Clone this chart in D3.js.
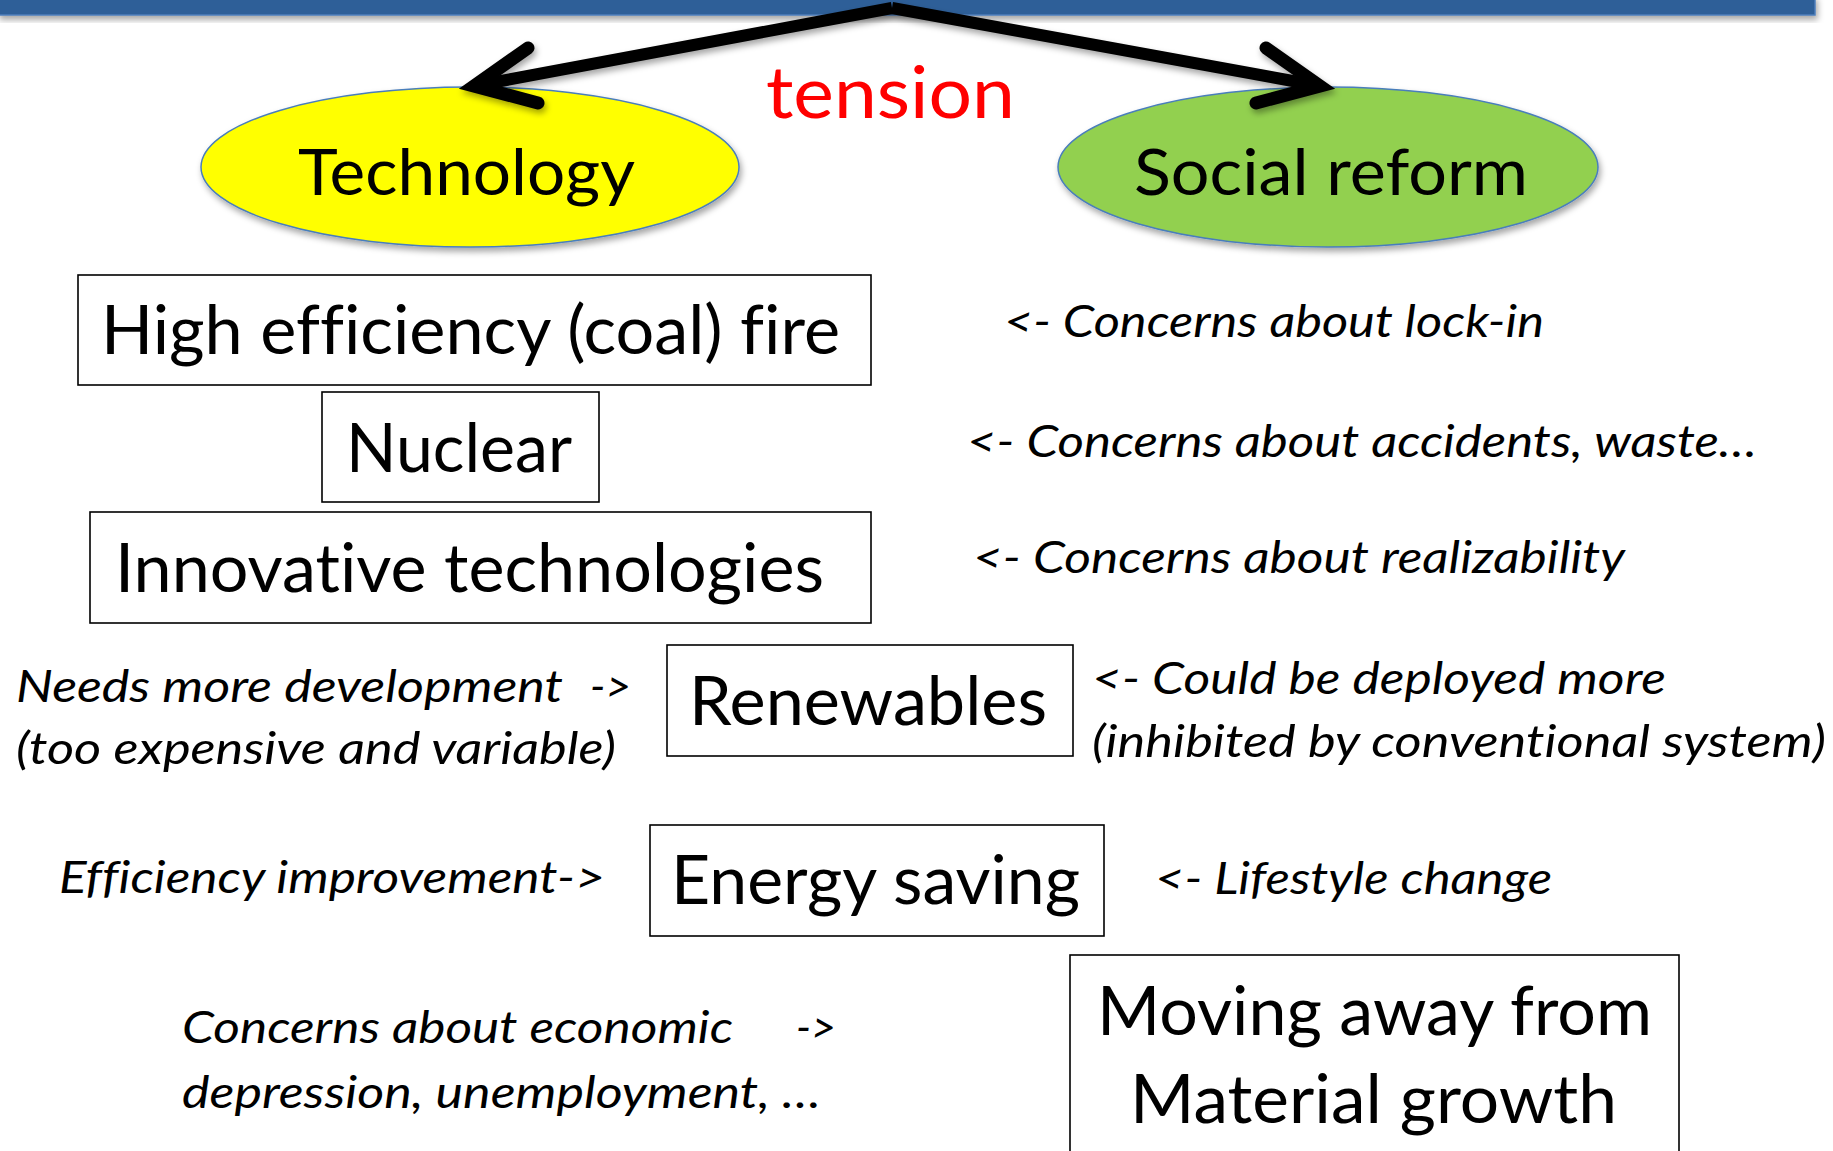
<!DOCTYPE html>
<html lang="en">
<head>
  <meta charset="utf-8" />
  <title>Technology vs Social reform</title>
  <script src="https://d3js.org/d3.v7.min.js"></script>
  <style>
    html, body { margin: 0; padding: 0; background: #fff; }
    svg text { font-family: Lato, "Open Sans", sans-serif; white-space: pre; font-variant-ligatures: none; }
  </style>
</head>
<body>
<script>
  // ---- content ----
  var poles = ["Technology", "Social reform"];
  var tensionLabel = "tension";
  var options = [
    ["High efficiency (coal) fire"],
    ["Nuclear"],
    ["Innovative technologies"],
    ["Renewables"],
    ["Energy saving"],
    ["Moving away from", "Material growth"]
  ];
  var socialNotes = [
    "<- Concerns about lock-in",
    "<- Concerns about accidents, waste…",
    "<- Concerns about realizability",
    "<- Could be deployed more",
    "(inhibited by conventional system)",
    "<- Lifestyle change"
  ];
  var techNotes = [
    "Needs more development",
    "->",
    "(too expensive and variable)",
    "Efficiency improvement->",
    "Concerns about economic",
    "->",
    "depression, unemployment, …"
  ];

  // ---- layout (slide units = reference pixels) ----
  var svg_width = 1833, svg_height = 1151;
  var x = d3.scaleLinear().domain([0, 1833]).range([0, svg_width]);
  var y = d3.scaleLinear().domain([0, 1151]).range([0, svg_height]);

  var poleLayout = [
    { cx: 470, cy: 167, rx: 269, ry: 80, fill: "#FFFF00", tx0: 298, tx1: 635, ty: 195 },
    { cx: 1328, cy: 167, rx: 270, ry: 80, fill: "#92D050", tx0: 1134, tx1: 1528, ty: 195 }
  ];
  var boxLayout = [
    { x0: 78, y0: 275, x1: 871, y1: 385, lines: [[101, 840, 354]] },
    { x0: 322, y0: 392, x1: 599, y1: 502, lines: [[346, 572, 472]] },
    { x0: 90, y0: 512, x1: 871, y1: 623, lines: [[115, 824, 592]] },
    { x0: 667, y0: 645, x1: 1073, y1: 756, lines: [[689, 1047, 725]] },
    { x0: 650, y0: 825, x1: 1104, y1: 936, lines: [[671, 1080, 904]] },
    { x0: 1070, y0: 955, x1: 1679, y1: 1170, lines: [[1097, 1652, 1035], [1130, 1617, 1123]] }
  ];
  var socialPos = [
    [1004, 1544, 337], [967, 1757, 457], [973, 1625, 573],
    [1092, 1666, 694], [1092, 1826, 757], [1155, 1552, 894]
  ];
  var techPos = [
    [16, 563, 702], [590, 631, 702], [16, 616, 764], [59, 605, 893],
    [182, 733, 1043], [796, 836, 1043], [182, 821, 1108]
  ];

  var svg = d3.select("body").append("svg")
    .attr("width", svg_width)
    .attr("height", svg_height);

  var defs = svg.append("defs");
  defs.append("filter").attr("id", "shadow")
    .attr("x", "-10%").attr("y", "-20%").attr("width", "130%").attr("height", "160%")
    .append("feDropShadow")
    .attr("dx", 2).attr("dy", 4).attr("stdDeviation", 3)
    .attr("flood-color", "#000").attr("flood-opacity", 0.35);

  // top bar
  svg.append("rect")
    .attr("x", x(-2)).attr("y", y(-4))
    .attr("width", x(1815) - x(-2)).attr("height", y(19))
    .attr("fill", "#2E5E98")
    .attr("stroke", "#4C7DBA").attr("stroke-width", 1.5)
    .attr("filter", "url(#shadow)");

  // ellipses
  var poleG = svg.append("g").selectAll("g").data(poles).join("g");
  poleG.append("ellipse")
    .attr("cx", function (d, i) { return x(poleLayout[i].cx); })
    .attr("cy", function (d, i) { return y(poleLayout[i].cy); })
    .attr("rx", function (d, i) { return x(poleLayout[i].rx) - x(0); })
    .attr("ry", function (d, i) { return y(poleLayout[i].ry) - y(0); })
    .attr("fill", function (d, i) { return poleLayout[i].fill; })
    .attr("stroke", "#4A7EBB").attr("stroke-width", 1.5)
    .attr("filter", "url(#shadow)");
  poleG.append("text")
    .attr("x", function (d, i) { return x(poleLayout[i].tx0); })
    .attr("y", function (d, i) { return y(poleLayout[i].ty); })
    .attr("font-size", 63)
    .attr("textLength", function (d, i) { return x(poleLayout[i].tx1) - x(poleLayout[i].tx0); })
    .attr("lengthAdjust", "spacingAndGlyphs")
    .text(function (d) { return d; });

  // tension arrows
  var apex = [892, 8];
  var arrows = [
    { tip: [474, 86], h1: [528, 48], h2: [538, 103] },
    { tip: [1320, 86], h1: [1266, 48], h2: [1256, 103] }
  ];
  var line = d3.line().x(function (p) { return x(p[0]); }).y(function (p) { return y(p[1]); });
  var arrowG = svg.append("g").attr("filter", "url(#shadow)");
  arrows.forEach(function (a) {
    arrowG.append("path").attr("d", line([apex, a.tip]))
      .attr("fill", "none").attr("stroke", "#000").attr("stroke-width", 12);
    arrowG.append("path").attr("d", line([a.h1, a.tip, a.h2]))
      .attr("fill", "none").attr("stroke", "#000").attr("stroke-width", 13)
      .attr("stroke-linecap", "round").attr("stroke-linejoin", "miter");
  });
  svg.append("text")
    .attr("x", x(766)).attr("y", y(118))
    .attr("font-size", 72).attr("fill", "#FF0000")
    .attr("textLength", x(1015) - x(766))
    .attr("lengthAdjust", "spacingAndGlyphs")
    .text(tensionLabel);

  // option boxes
  var boxG = svg.append("g").selectAll("g").data(options).join("g");
  boxG.append("rect")
    .attr("x", function (d, i) { return x(boxLayout[i].x0); })
    .attr("y", function (d, i) { return y(boxLayout[i].y0); })
    .attr("width", function (d, i) { return x(boxLayout[i].x1) - x(boxLayout[i].x0); })
    .attr("height", function (d, i) { return y(boxLayout[i].y1) - y(boxLayout[i].y0); })
    .attr("fill", "#fff").attr("stroke", "#000").attr("stroke-width", 1.6);
  boxG.each(function (d, i) {
    var g = d3.select(this);
    d.forEach(function (txt, j) {
      var p = boxLayout[i].lines[j];
      g.append("text")
        .attr("x", x(p[0])).attr("y", y(p[2]))
        .attr("font-size", 67)
        .attr("textLength", x(p[1]) - x(p[0]))
        .attr("lengthAdjust", "spacingAndGlyphs")
        .text(txt);
    });
  });

  // italic notes
  function notes(list, pos) {
    svg.append("g").selectAll("text").data(list).join("text")
      .attr("x", function (d, i) { return x(pos[i][0]); })
      .attr("y", function (d, i) { return y(pos[i][2]); })
      .attr("font-size", 44)
      .attr("font-style", "italic")
      .attr("textLength", function (d, i) { return x(pos[i][1]) - x(pos[i][0]); })
      .attr("lengthAdjust", "spacingAndGlyphs")
      .text(function (d) { return d; });
  }
  notes(socialNotes, socialPos);
  notes(techNotes, techPos);
</script>
</body>
</html>
